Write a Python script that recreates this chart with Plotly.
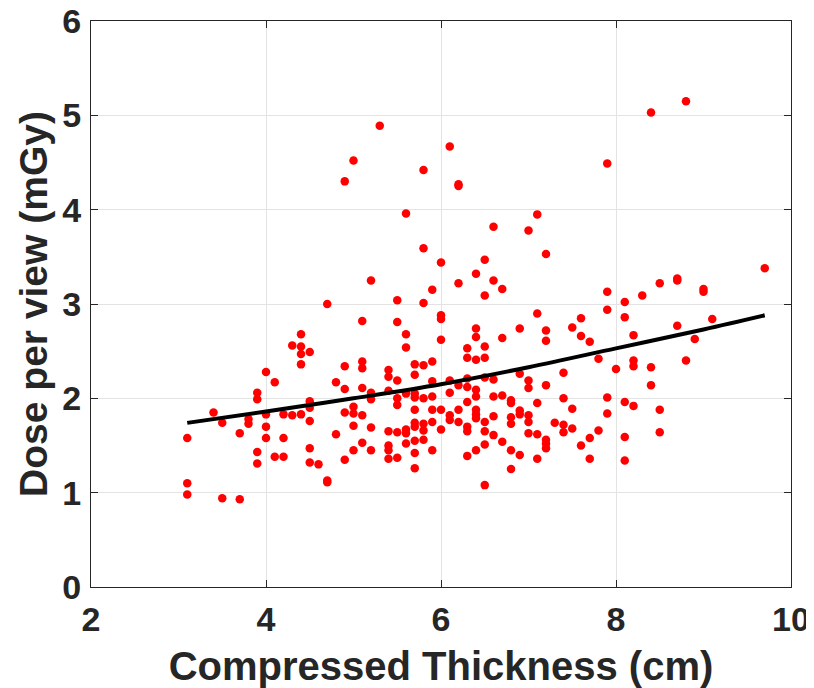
import plotly.graph_objects as go

# Scatter data: compressed thickness (cm) -> list of doses (mGy)
thickness_cols = [3.1, 3.4, 3.5, 3.7, 3.8, 3.9, 4.0, 4.1, 4.2, 4.3, 4.4, 4.5, 4.6, 4.7, 4.8, 4.9,
                  5.0, 5.1, 5.2, 5.3, 5.4, 5.5, 5.6, 5.7, 5.8, 5.9, 6.0, 6.1, 6.2, 6.3, 6.4, 6.5,
                  6.6, 6.7, 6.8, 6.9, 7.0, 7.1, 7.2, 7.3, 7.4, 7.5, 7.6, 7.7, 7.8, 7.9, 8.0, 8.1,
                  8.2, 8.3, 8.4, 8.5, 8.7, 8.8, 8.9, 9.0, 9.1, 9.7]
dose_cols = [
    [1.58, 1.10, 0.98],
    [1.85],
    [1.74, 0.94],
    [1.63, 0.93],
    [1.78, 1.73],
    [2.06, 1.99, 1.43, 1.31],
    [2.28, 1.83, 1.70, 1.58],
    [2.17, 1.38],
    [1.83, 1.58, 1.38],
    [2.56, 1.82],
    [2.68, 2.55, 2.47, 2.36, 1.83],
    [2.49, 1.97, 1.90, 1.76, 1.47, 1.32],
    [1.30],
    [3.00, 1.13, 1.11],
    [2.17, 1.62],
    [4.30, 2.34, 2.10, 1.85, 1.35],
    [4.52, 1.91, 1.84, 1.71, 1.45],
    [2.82, 2.39, 2.32, 2.11, 1.82, 1.53],
    [3.25, 2.06, 1.99, 1.69, 1.45],
    [4.89],
    [2.30, 2.23, 2.08, 1.65, 1.50, 1.45, 1.36],
    [3.04, 2.81, 2.19, 2.00, 1.93, 1.64, 1.37],
    [3.96, 2.68, 2.54, 2.05, 1.67, 1.63, 1.52],
    [2.36, 2.25, 2.05, 2.01, 1.88, 1.74, 1.70, 1.55, 1.42, 1.26],
    [4.42, 3.59, 3.01, 2.35, 2.00, 1.73, 1.66, 1.56],
    [3.15, 2.39, 2.18, 2.02, 1.88, 1.75, 1.45],
    [3.44, 2.88, 2.84, 2.62, 1.88, 1.67],
    [4.67, 2.19, 2.06, 1.82, 1.77],
    [4.27, 4.25, 3.22, 2.14, 1.88, 1.75],
    [2.53, 2.43, 2.21, 2.12, 1.96, 1.70, 1.65, 1.39],
    [3.32, 2.74, 2.65, 2.41, 2.09, 2.02, 1.88, 1.83, 1.79, 1.45],
    [3.47, 3.09, 2.55, 2.43, 2.22, 1.75, 1.65, 1.51, 1.08],
    [3.82, 3.25, 2.20, 2.02, 1.81, 1.61],
    [3.16, 2.64, 2.03, 1.54],
    [1.98, 1.95, 1.80, 1.73, 1.45, 1.25],
    [2.74, 2.26, 1.87, 1.83, 1.40],
    [3.78, 2.19, 2.11, 1.82, 1.75, 1.63],
    [3.95, 2.90, 1.95, 1.62, 1.36],
    [3.53, 2.72, 2.61, 2.14, 1.56, 1.52, 1.47],
    [1.74],
    [2.27, 2.00, 1.72, 1.64],
    [2.75, 1.89, 1.68],
    [2.85, 2.66, 1.50],
    [2.60, 1.58, 1.36],
    [2.42, 1.66],
    [4.49, 3.13, 2.94, 2.01, 1.84],
    [2.31],
    [3.02, 2.86, 1.96, 1.59, 1.34],
    [2.67, 2.40, 2.34, 1.92],
    [3.09],
    [5.03, 2.33, 2.14],
    [3.22, 1.88, 1.64],
    [3.27, 3.25, 2.77],
    [5.15, 2.40],
    [2.63],
    [3.16, 3.13],
    [2.84],
    [3.38],
]

# Fitted trend curve
fit_x = [3.1, 4.0, 5.0, 6.0, 7.0, 8.0, 9.0, 9.7]
fit_y = [1.74, 1.86, 2.00, 2.15, 2.33, 2.53, 2.73, 2.88]

x_ticks = [2, 4, 6, 8, 10]
y_ticks = [0, 1, 2, 3, 4, 5, 6]

xs, ys = [], []
for t, ds in zip(thickness_cols, dose_cols):
    for d in ds:
        xs.append(t)
        ys.append(d)

FONT = "Liberation Sans"
TXT = "#262626"

fig = go.Figure()
fig.add_trace(go.Scatter(
    x=xs, y=ys, mode="markers",
    marker=dict(color="#ff0000", size=8.5, line=dict(width=0)),
    showlegend=False,
))
fig.add_trace(go.Scatter(
    x=fit_x, y=fit_y, mode="lines",
    line=dict(color="#000000", width=4, shape="spline"),
    showlegend=False,
))

axis_common = dict(
    showline=True, linecolor="#262626", linewidth=1, mirror="ticks",
    ticks="inside", ticklen=7, tickcolor="#262626", tickwidth=1,
    showgrid=True, gridcolor="#e3e3e3", gridwidth=1,
    zeroline=False, automargin=False, ticklabeloverflow="allow",
    tickfont=dict(family=FONT, size=34, color=TXT, weight="bold"),
)

fig.update_xaxes(
    range=[2, 10], tickvals=x_ticks, ticktext=[str(v) for v in x_ticks],
    title=dict(text="<b>Compressed Thickness (cm)</b>",
               font=dict(family=FONT, size=40, color=TXT), standoff=19),
    ticklabelstandoff=2,
    **axis_common,
)
fig.update_yaxes(
    range=[0, 6], tickvals=y_ticks, ticktext=[str(v) for v in y_ticks],
    title=dict(text="<b>Dose per view (mGy)</b>",
               font=dict(family=FONT, size=39, color=TXT), standoff=2),
    ticklabelstandoff=2,
    **axis_common,
)

fig.update_layout(
    width=806, height=680,
    margin=dict(l=83, r=23, t=13, b=101),
    plot_bgcolor="#ffffff", paper_bgcolor="#ffffff",
)

fig.write_html("out.html")
